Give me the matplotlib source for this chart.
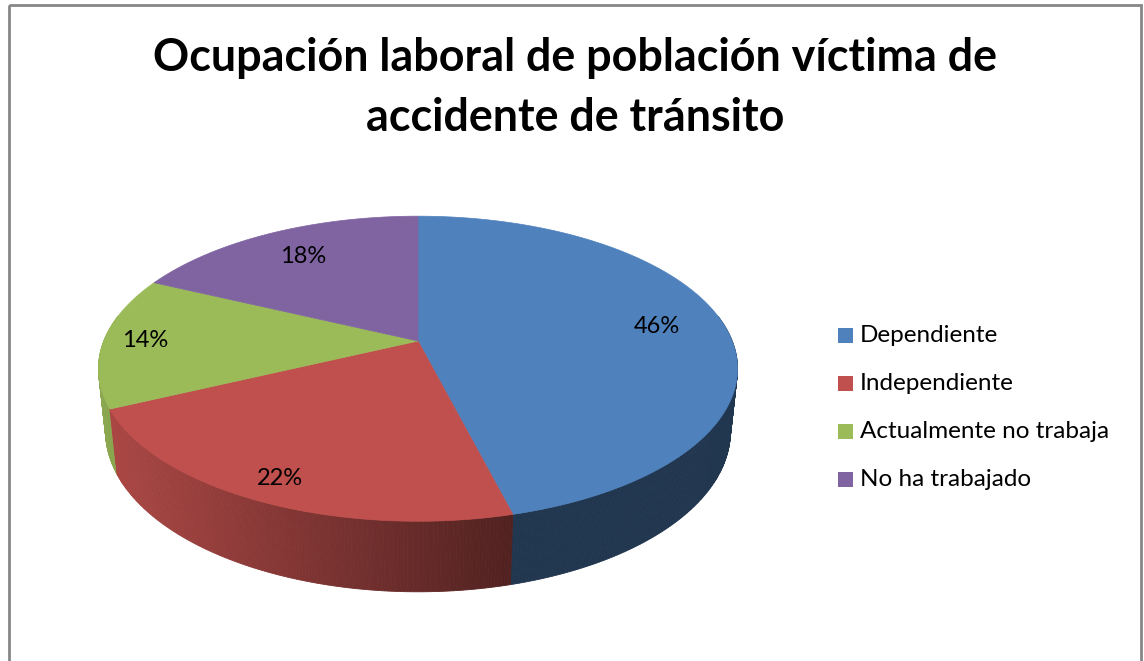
import numpy as np
import matplotlib
matplotlib.use("Agg")
import matplotlib.pyplot as plt
from matplotlib.patches import Polygon, Rectangle
import matplotlib.colors as mcolors

# ---------------- data ----------------
categories = ["Dependiente", "Independiente", "Actualmente no trabaja", "No ha trabajado"]
values = [46, 22, 14, 18]
pct_labels = ["46%", "22%", "14%", "18%"]
title_lines = ["Ocupación laboral de población víctima de", "accidente de tránsito"]

# ---------------- style ----------------
colors = ["#4f81bd", "#c0504d", "#9bbb59", "#8064a2"]
FONT = "Lato"
LABEL_R = [0.78, 0.88, 0.87, 0.76]

W, H = 1144, 661
fig = plt.figure(figsize=(W / 100, H / 100), dpi=100)
ax = fig.add_axes([0, 0, 1, 1])
ax.set_xlim(0, W)
ax.set_ylim(H, 0)
ax.axis("off")

# perspective model of the 3D pie (pixel space)
CX, CY = 418, 341
F = 1527.0
D = 4.86
ELEV = np.radians(28)
THICK = 0.228


def proj(theta, r=1.0, z=0.0):
    x = r * np.cos(theta)
    y = r * np.sin(theta)
    s, c = np.sin(ELEV), np.cos(ELEV)
    vw = y * s + z * c
    depth = y * c - z * s
    k = F / (D + depth)
    return CX + x * k, CY - vw * k


def shade(col, f):
    rgb = np.array(mcolors.to_rgb(col))
    return tuple(np.clip(rgb * f, 0, 1))


vals = np.array(values, dtype=float)
frac = vals / vals.sum()
ends = 90 - np.cumsum(frac) * 360
starts = np.concatenate([[90], ends[:-1]])

# ---- side walls ----
strips = []
VIS_LO, VIS_HI = -190.0, 10.0
for i in range(len(values)):
    hi = min(starts[i], VIS_HI)
    lo = max(ends[i], VIS_LO)
    if hi <= lo:
        continue
    n = max(2, int((hi - lo) / 0.5))
    a = np.linspace(hi, lo, n + 1)
    for j in range(n):
        t1, t2 = np.radians(a[j]), np.radians(a[j + 1])
        p1 = proj(t1); p2 = proj(t2)
        q2 = proj(t2, z=-THICK); q1 = proj(t1, z=-THICK)
        xm = (p1[0] + p2[0]) / 2
        if xm >= 513:
            f = 0.42
        else:
            f = 0.42 + (0.90 - 0.42) * (513 - xm) / (513 - 100)
        col = shade(colors[i], f)
        depth_key = np.sin((t1 + t2) / 2)
        strips.append((depth_key, [p1, p2, q2, q1], col))

strips.sort(key=lambda s: -s[0])
for _, pts, col in strips:
    ax.add_patch(Polygon(pts, closed=True, facecolor=col, edgecolor=col, lw=0.6))

# ---- top faces ----
for i in range(len(values)):
    a = np.radians(np.linspace(starts[i], ends[i], 200))
    xs, ys = proj(a)
    pts = [(CX, CY)] + list(zip(xs, ys))
    ax.add_patch(Polygon(pts, closed=True, facecolor=colors[i], edgecolor=colors[i], lw=0.5))

# ---- percent labels ----
for i in range(len(values)):
    mid = np.radians((starts[i] + ends[i]) / 2)
    lx, ly = proj(mid, r=LABEL_R[i])
    ax.text(lx, ly, pct_labels[i], ha="center", va="center", fontsize=17,
            family=FONT, color="black")

# ---- legend ----
for i, cat in enumerate(categories):
    y = 335 + 48.3 * i
    ax.add_patch(Rectangle((838, y - 7.5), 15, 15, facecolor=colors[i], edgecolor="none"))
    ax.text(860, y, cat, ha="left", va="center", fontsize=17.5, family=FONT, color="black")

# ---- title ----
t1 = ax.text(575, 71, title_lines[0], ha="center", va="baseline", fontsize=30,
             family=FONT, fontweight="bold", color="black")
t2 = ax.text(575, 131, title_lines[1], ha="center", va="baseline", fontsize=30,
             family=FONT, fontweight="bold", color="black")
fig.canvas.draw()
r = fig.canvas.get_renderer()
wpx = t1.get_window_extent(r).width
fs = 30 * 844.0 / wpx
t1.set_fontsize(fs)
t2.set_fontsize(fs)

# ---- border ----
ax.add_patch(Rectangle((8.5, 4.5), 1132.5, 700, facecolor="none", edgecolor="#878787", lw=2))

fig.savefig("out.png", dpi=100)
